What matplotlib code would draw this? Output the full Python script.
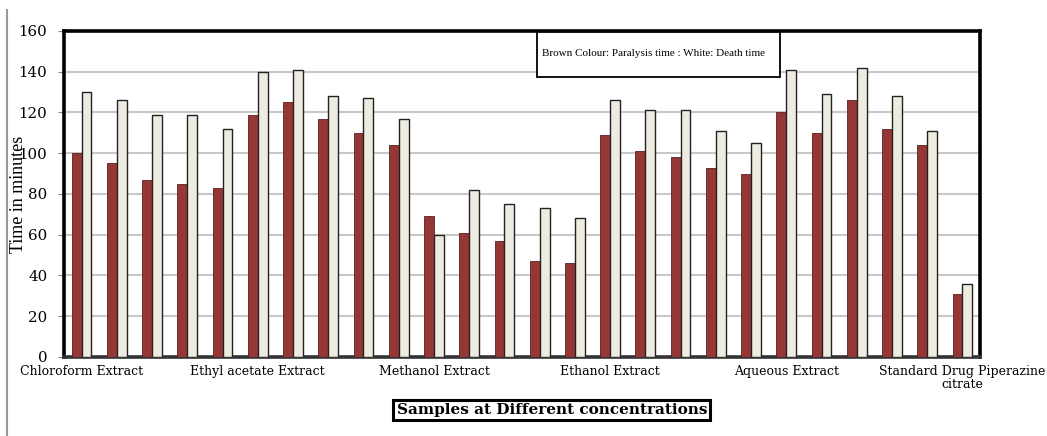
import matplotlib
matplotlib.use("Agg")
import matplotlib.pyplot as plt
import numpy as np
from matplotlib.lines import Line2D
from matplotlib.patches import Rectangle

# Paralysis and death times (minutes) for each sample / concentration
paralysis_time = [100, 95, 87, 85, 83, 119, 125, 117, 110, 104, 69, 61, 57,
                  47, 46, 109, 101, 98, 93, 90, 120, 110, 126, 112, 104, 31]
death_time = [130, 126, 119, 119, 112, 140, 141, 128, 127, 117, 60, 82, 75,
              73, 68, 126, 121, 121, 111, 105, 141, 129, 142, 128, 111, 36]

category_labels = ["Chloroform Extract", "", "", "", "",
                   "Ethyl acetate Extract", "", "", "", "",
                   "Methanol Extract", "", "", "", "",
                   "Ethanol Extract", "", "", "", "",
                   "Aqueous Extract", "", "", "", "",
                   "Standard Drug Piperazine\ncitrate"]

y_ticks = [0, 20, 40, 60, 80, 100, 120, 140, 160]

serif = ["Liberation Serif", "DejaVu Serif"]
wide_serif = ["DejaVu Serif"]

fig = plt.figure(figsize=(10.47, 4.36), dpi=100)
ax = fig.add_axes([0.0611, 0.1812, 0.875, 0.7477])

x = np.arange(len(paralysis_time))
w = 0.28
ax.bar(x - w / 2, paralysis_time, width=w, color="#953735",
       edgecolor="#5a1f1e", linewidth=0.6, zorder=3)
ax.bar(x + w / 2, death_time, width=w, color="#EEECE1",
       edgecolor="#222222", linewidth=1.0, zorder=3)

ax.set_xlim(-0.5, 25.5)
ax.set_ylim(0, 160)
ax.set_yticks(y_ticks)
ax.set_yticklabels([str(v) for v in y_ticks], fontfamily=wide_serif,
                   fontsize=10.8)
ax.tick_params(axis="y", length=4, color="#888888", pad=8)
ax.set_xticks(x)
ax.set_xticklabels(category_labels, fontfamily=wide_serif, fontsize=9.0,
                   linespacing=0.95)
ax.tick_params(axis="x", length=0, pad=6)

ax.grid(axis="y", color="#c8c8c8", linewidth=1.5, zorder=0)
ax.set_axisbelow(True)

for side in ["top", "right", "left"]:
    ax.spines[side].set_linewidth(2.6)
    ax.spines[side].set_color("black")
ax.spines["bottom"].set_linewidth(2.6)
ax.spines["bottom"].set_color("#333333")

ax.set_ylabel("Time in minutes", fontfamily=serif, fontsize=13)
ax.yaxis.set_label_coords(-0.040, 0.5)

# Legend note box
ax.add_patch(Rectangle((0.5164, 0.859), 0.2653, 0.138, transform=ax.transAxes,
                       facecolor="white", edgecolor="black", linewidth=1.3,
                       zorder=6, clip_on=False))
ax.text(0.644, 0.9325, "Brown Colour: Paralysis time : White: Death time",
        transform=ax.transAxes, fontfamily=serif, fontsize=8.0,
        ha="center", va="center", zorder=7)

# Axis title in a box below the chart
fig.text(0.527, 0.0596, "Samples at Different concentrations",
         fontfamily=wide_serif, fontsize=11, fontweight="bold",
         ha="center", va="center",
         bbox=dict(boxstyle="square,pad=0.22", facecolor="white",
                   edgecolor="black", linewidth=2.2))

# Thin vertical rule at the left edge
fig.add_artist(Line2D([0.0067, 0.0067], [0.0, 0.977], transform=fig.transFigure,
                      color="#999999", linewidth=1.5))

fig.savefig("out.png", dpi=100)
